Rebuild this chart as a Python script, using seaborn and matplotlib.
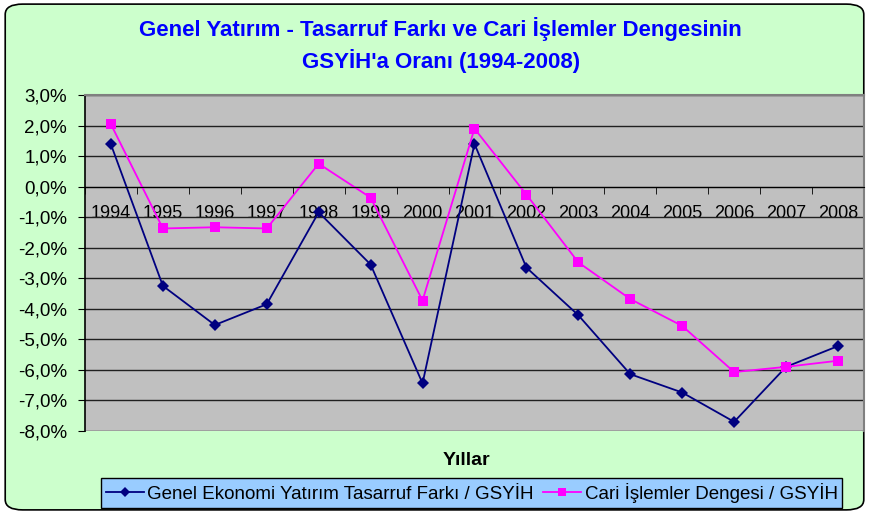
import numpy as np
import pandas as pd
import matplotlib.pyplot as plt
import seaborn as sns
from matplotlib.patches import FancyBboxPatch
from matplotlib.ticker import FuncFormatter, FixedLocator

# Data (in %)
years = ['1994', '1995', '1996', '1997', '1998', '1999', '2000', '2001',
         '2002', '2003', '2004', '2005', '2006', '2007', '2008']
yatirim_tasarruf = [1.38, -3.25, -4.53, -3.85, -0.84, -2.55, -6.44, 1.40,
                    -2.65, -4.21, -6.14, -6.74, -7.70, -5.90, -5.22]
cari_islemler = [2.04, -1.37, -1.33, -1.37, 0.75, -0.36, -3.73, 1.90,
                 -0.26, -2.48, -3.68, -4.56, -6.07, -5.90, -5.70]
seri_adlari = ['Genel Ekonomi Yatırım Tasarruf Farkı / GSYİH',
               'Cari İşlemler Dengesi / GSYİH']

df = pd.DataFrame({'Yıl': years * 2,
                   'Oran': yatirim_tasarruf + cari_islemler,
                   'Seri': [seri_adlari[0]] * len(years) + [seri_adlari[1]] * len(years)})

plt.rcParams['font.family'] = ['Liberation Sans', 'DejaVu Sans']

fig = plt.figure(figsize=(8.69, 5.14), dpi=100)
fig.patch.set_facecolor('white')
# green rounded background
fig.patches.append(FancyBboxPatch((0.006, 0.008), 0.988, 0.984,
                                  boxstyle='round,pad=0,rounding_size=0.02',
                                  transform=fig.transFigure, facecolor='#CCFFCC',
                                  edgecolor='black', linewidth=1.2, zorder=-10))

ax = fig.add_axes([0.0978, 0.1615, 0.8964, 0.6537])
ax.set_facecolor('#C0C0C0')

sns.lineplot(data=df, x='Yıl', y='Oran', hue='Seri', style='Seri',
             palette=['#000080', '#FF00FF'], markers=['D', 's'], dashes=False,
             markersize=6.5, markeredgewidth=0, linewidth=1.3, ax=ax, legend=True)

ax.set_xlim(-0.5, len(years) - 0.5)
ax.set_ylim(-8, 3)
ax.yaxis.set_major_locator(FixedLocator(np.arange(-8, 4, 1)))
ax.yaxis.set_major_formatter(FuncFormatter(lambda v, p: f'{v:.1f}%'.replace('.', ',')))
ax.grid(axis='y', color='#202020', linewidth=1.0)
ax.set_axisbelow(True)

# x axis on zero line
ax.spines['bottom'].set_position(('data', 0))
ax.spines['bottom'].set_color('black')
ax.spines['left'].set_color('black')
ax.spines['left'].set_linewidth(1.2)
for s in ['top', 'right']:
    ax.spines[s].set_color('#808080')
    ax.spines[s].set_linewidth(1.5)
ax.set_xticks(range(len(years)))
ax.set_xticklabels(years)
ax.set_xticks(np.arange(-0.5, len(years), 1), minor=True)
ax.tick_params(axis='x', which='major', length=0, pad=13, labelsize=13)
ax.tick_params(axis='x', which='minor', length=5, direction='out', color='black')
ax.tick_params(axis='y', length=5, direction='out', labelsize=13.5, pad=8)
ax.set_xlabel('')
ax.set_ylabel('')

fig.text(0.507, 0.912, "Genel Yatırım - Tasarruf Farkı ve Cari İşlemler Dengesinin\nGSYİH'a Oranı (1994-2008)",
         ha='center', va='center', fontsize=16, fontweight='bold', color='#0000FF',
         linespacing=1.4)
fig.text(0.537, 0.105, 'Yıllar', ha='center', va='center', fontsize=14, fontweight='bold')

handles, labels = ax.get_legend_handles_labels()
ax.get_legend().remove()
leg = fig.legend(handles, labels, loc='center', bbox_to_anchor=(0.543, 0.041), ncol=2,
                 fancybox=False, framealpha=1, facecolor='#99CCFF', edgecolor='black',
                 fontsize=13.5, handlelength=2.0, handletextpad=0.2, columnspacing=0.5,
                 borderpad=0.25, markerscale=0.85)
leg.get_frame().set_linewidth(1.0)

fig.savefig('out.png', dpi=100)
